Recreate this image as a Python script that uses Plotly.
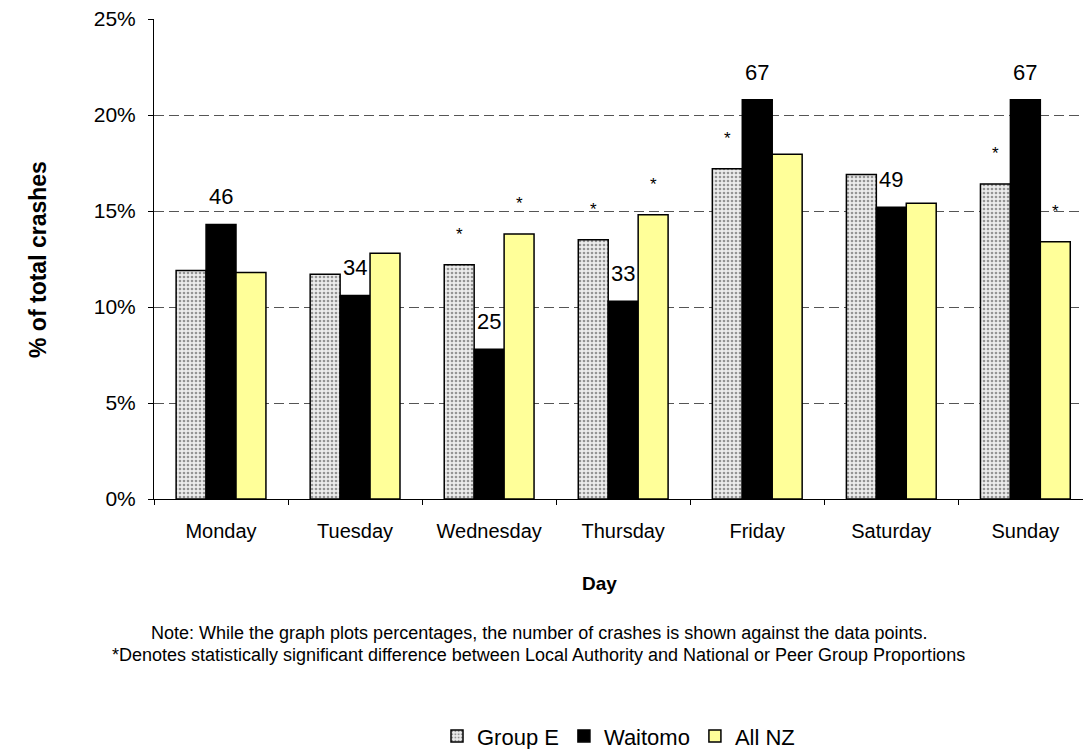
import plotly.graph_objects as go

days = ["Monday", "Tuesday", "Wednesday", "Thursday", "Friday", "Saturday", "Sunday"]
group_e = [11.9, 11.7, 12.2, 13.5, 17.2, 16.9, 16.4]
waitomo = [14.3, 10.6, 7.8, 10.3, 20.8, 15.2, 20.8]
all_nz = [11.8, 12.8, 13.8, 14.8, 17.95, 15.4, 13.4]
waitomo_counts = [46, 34, 25, 33, 67, 49, 67]
sig_group_e = [False, False, True, True, True, False, True]
sig_all_nz = [False, False, True, True, False, False, True]

FONT = "Liberation Sans, Arial, sans-serif"
LINE = dict(color="black", width=1.5)

fig = go.Figure()
fig.add_trace(go.Bar(
    x=days, y=group_e, name="Group E",
    marker=dict(color="#ececec", line=LINE,
                pattern=dict(shape=".", fgcolor="#3c3c3c", bgcolor="#ececec", size=4, solidity=0.35)),
))
fig.add_trace(go.Bar(x=days, y=waitomo, name="Waitomo", marker=dict(color="black", line=LINE)))
fig.add_trace(go.Bar(x=days, y=all_nz, name="All NZ", marker=dict(color="#ffff99", line=LINE)))

annotations = []
for day, val, n in zip(days, waitomo, waitomo_counts):
    annotations.append(dict(x=day, y=val, text=str(n), showarrow=False, yanchor="bottom",
                            yshift=13, font=dict(size=22, color="black")))
for day, val, s in zip(days, group_e, sig_group_e):
    if s:
        annotations.append(dict(x=day, y=val, text="*", showarrow=False, yanchor="bottom",
                                yshift=19, xshift=-30, font=dict(size=17, color="black")))
for day, val, s in zip(days, all_nz, sig_all_nz):
    if s:
        annotations.append(dict(x=day, y=val, text="*", showarrow=False, yanchor="bottom",
                                yshift=19, xshift=30, font=dict(size=17, color="black")))

# axis titles and footnotes
annotations += [
    dict(xref="paper", yref="paper", x=-0.1249, y=0.5, xanchor="center", yanchor="middle",
         text="<b>% of total crashes</b>", textangle=-90, showarrow=False, font=dict(size=23)),
    dict(xref="paper", yref="paper", x=0.480, y=-0.175, xanchor="center", yanchor="middle",
         text="<b>Day</b>", showarrow=False, font=dict(size=19)),
    dict(xref="paper", yref="paper", x=0.414, y=-0.279, xanchor="center", yanchor="middle",
         text="Note: While the graph plots percentages, the number of crashes is shown against the data points.",
         showarrow=False, font=dict(size=18)),
    dict(xref="paper", yref="paper", x=0.414, y=-0.325, xanchor="center", yanchor="middle",
         text="*Denotes statistically significant difference between Local Authority and National or Peer Group Proportions",
         showarrow=False, font=dict(size=18)),
]

fig.update_layout(
    width=1083, height=749,
    barmode="group", bargap=0.33, bargroupgap=0,
    paper_bgcolor="white", plot_bgcolor="white",
    font=dict(family=FONT, color="black"),
    margin=dict(l=154, r=0, t=19, b=250, autoexpand=False),
    showlegend=True,
    legend=dict(orientation="h", x=0.5, y=-0.494, xanchor="center", yanchor="middle",
                font=dict(size=22), itemwidth=30, tracegroupgap=0),
    annotations=annotations,
)
fig.update_xaxes(
    range=[-0.5, 6.43], showline=True, linecolor="black", linewidth=1,
    ticks="outside", tickson="boundaries", ticklen=5, tickcolor="black",
    tickfont=dict(size=20), ticklabelstandoff=14,
)
fig.update_yaxes(
    range=[0, 25], dtick=5, ticksuffix="%", showline=True, linecolor="black", linewidth=1,
    ticks="outside", ticklen=5, tickcolor="black", tickfont=dict(size=21), ticklabelstandoff=8,
    showgrid=True, gridcolor="#555555", griddash="10px,5px", gridwidth=1, zeroline=False,
)

fig.write_html("out.html", config={"displayModeBar": False},
               post_script="document.body.style.margin='0';")
